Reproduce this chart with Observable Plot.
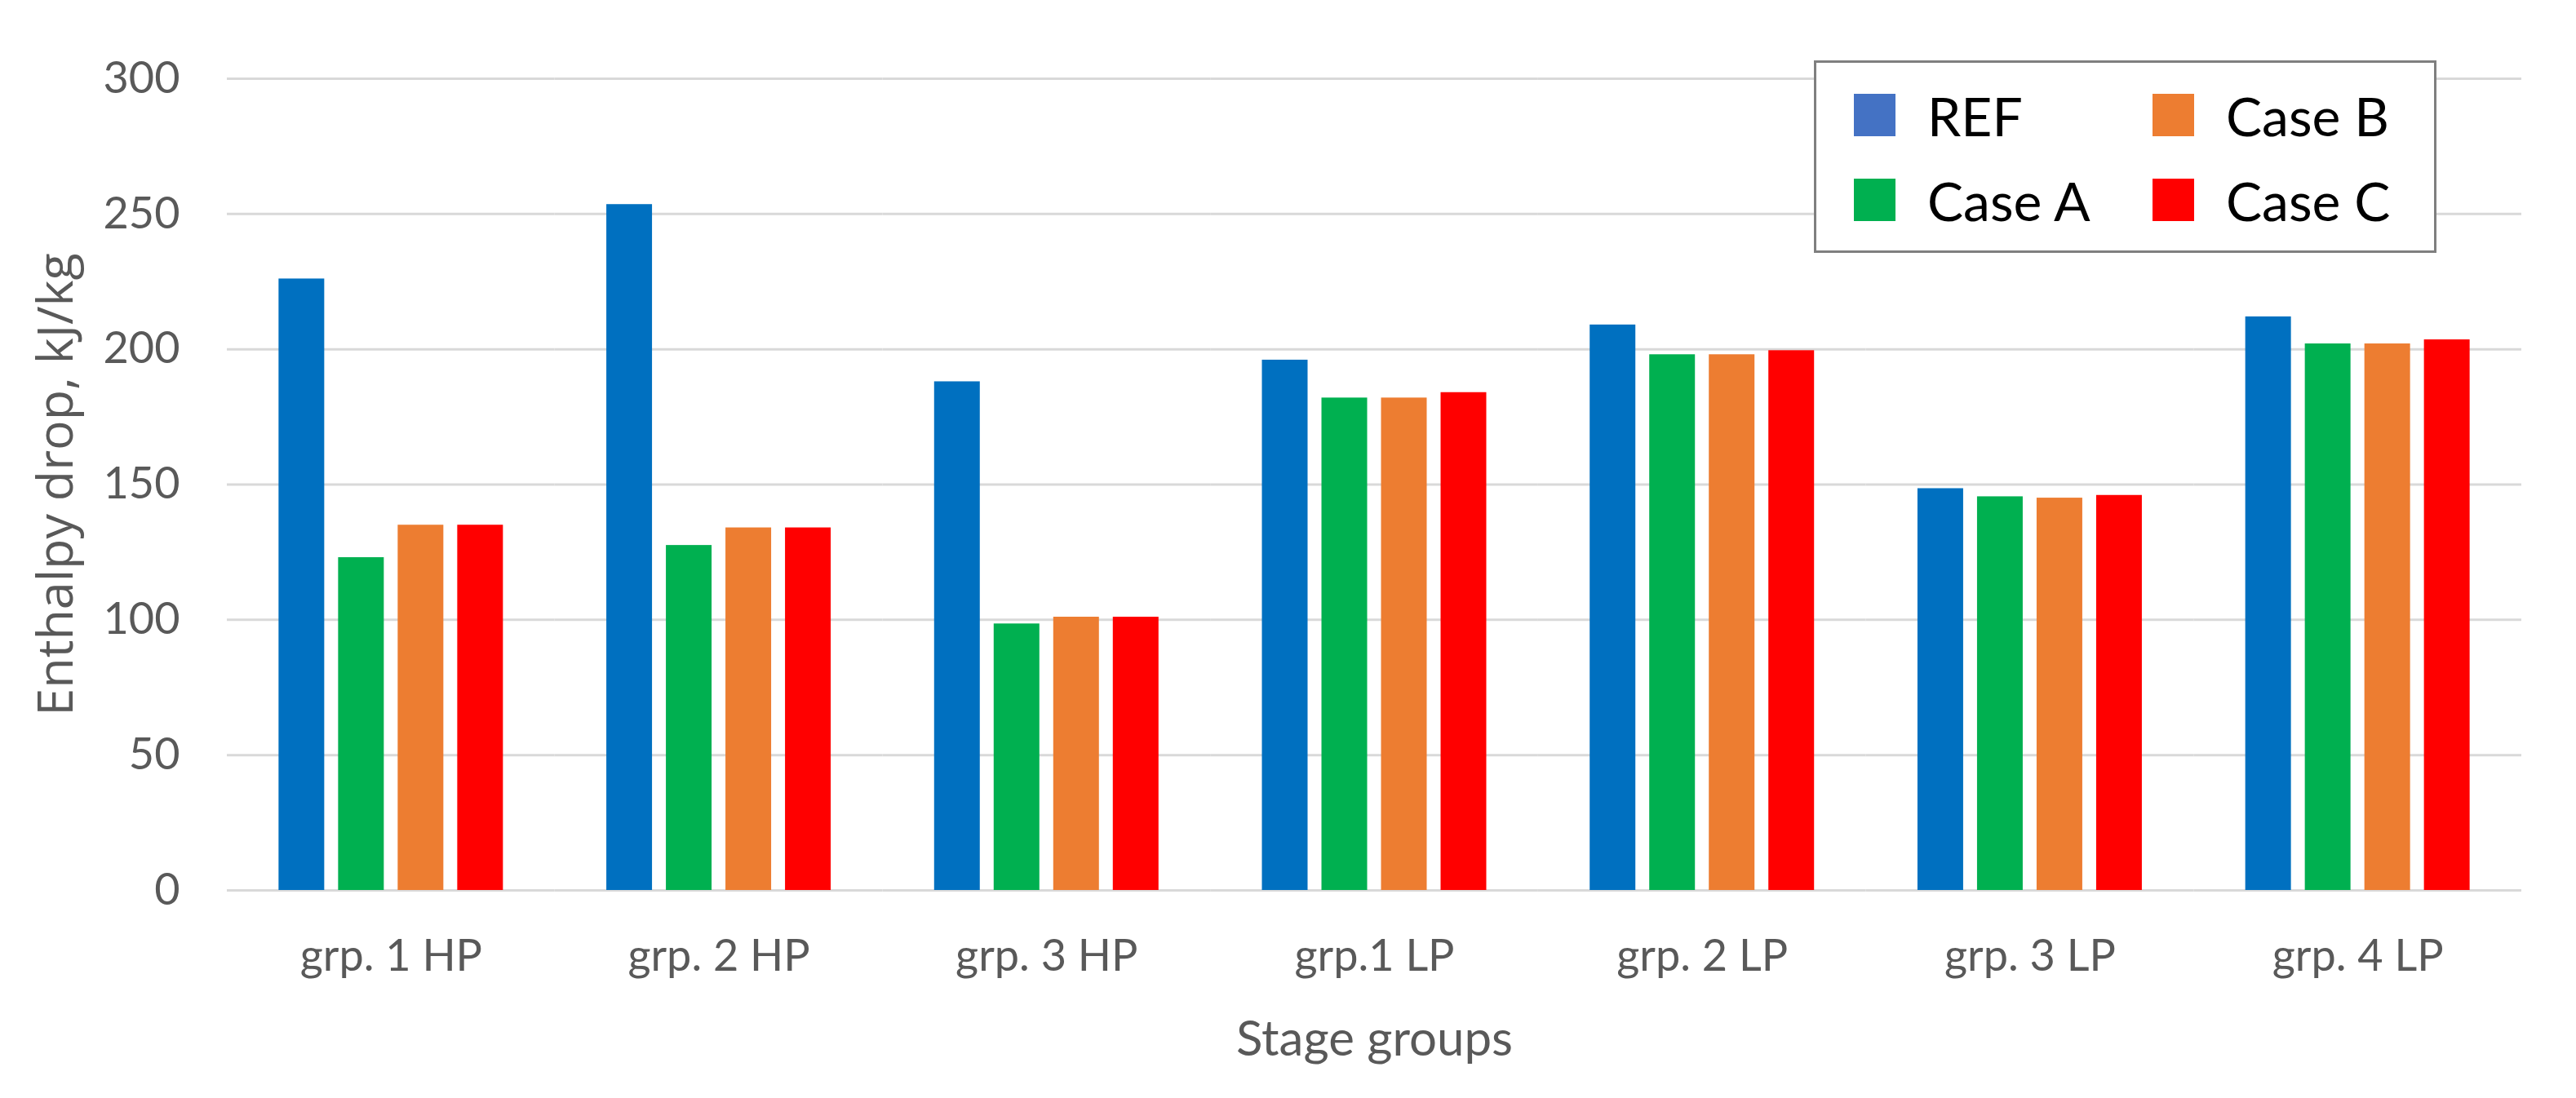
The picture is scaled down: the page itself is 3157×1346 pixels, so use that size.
<!DOCTYPE html>
<html>
<head>
<meta charset="utf-8">
<script src="https://cdn.jsdelivr.net/npm/d3@7"></script>
<script src="https://cdn.jsdelivr.net/npm/@observablehq/plot@0.6"></script>
<style>
  html, body { margin: 0; padding: 0; background: #fff; }
  #wrap { position: relative; width: 3157px; height: 1346px; }
  g[aria-label="y-axis label"] { font-family: "Open Sans", sans-serif; font-size: 61px; }
  g[aria-label="fx-axis label"] { font-family: Lato, sans-serif; font-size: 60px; }
  #legend {
    position: absolute; left: 2223px; top: 74px; width: 763px; height: 236px;
    box-sizing: border-box; border: 3px solid #7f7f7f; background: #fff;
    padding: 12px 0 0 46px;
    display: grid; grid-template-columns: 366px auto; grid-auto-rows: 104px;
    font-family: Lato, sans-serif; font-size: 66px; color: #000;
  }
  .item { display: flex; align-items: center; gap: 39px; }
  .sw { width: 51px; height: 52px; flex: none; }
</style>
</head>
<body>
<div id="wrap"></div>
<script>
const categories = ["grp. 1 HP", "grp. 2 HP", "grp. 3 HP", "grp.1 LP", "grp. 2 LP", "grp. 3 LP", "grp. 4 LP"];
const seriesNames = ["REF", "Case A", "Case B", "Case C"];
const refValues   = [226, 253.5, 188, 196, 209, 148.5, 212];
const caseAValues = [123, 127.5, 98.5, 182, 198, 145.5, 202];
const caseBValues = [135, 134, 101, 182, 198, 145, 202];
const caseCValues = [135, 134, 101, 184, 199.5, 146, 203.5];
const yTicks = [0, 50, 100, 150, 200, 250, 300];
const barColors = ["#0070C0", "#00B050", "#ED7D31", "#FF0000"];
const legendColors = ["#4472C4", "#00B050", "#ED7D31", "#FF0000"];
const legendOrder = ["REF", "Case B", "Case A", "Case C"];

const seriesValues = [refValues, caseAValues, caseBValues, caseCValues];
const data = [];
categories.forEach((g, i) => {
  seriesNames.forEach((s, j) => data.push({group: g, series: s, value: seriesValues[j][i]}));
});

const chart = Plot.plot({
  width: 3157,
  height: 1346,
  marginLeft: 278,
  marginRight: 67,
  marginTop: 96,
  marginBottom: 255,
  style: {fontFamily: "Lato, sans-serif", background: "#fff", color: "#595959", overflow: "visible"},
  fx: {domain: categories, padding: 0, round: false},
  x: {domain: seriesNames, axis: null, paddingInner: 0.233, paddingOuter: 0.868, round: false},
  y: {domain: [0, 300]},
  color: {domain: seriesNames, range: barColors},
  marks: [
    Plot.gridY(yTicks, {stroke: "#d9d9d9", strokeOpacity: 1, strokeWidth: 3}),
    Plot.barY(data, {fx: "group", x: "series", y: "value", fill: "series"}),
    Plot.axisY(yTicks, {
      tickSize: 0, tickPadding: 58, fontSize: 54, fill: "#595959",
      label: "Enthalpy drop, kJ/kg", labelAnchor: "center", labelOffset: 233, labelArrow: "none"
    }),
    Plot.axisFx({
      anchor: "bottom", tickSize: 0, tickPadding: 60, fontSize: 54, fill: "#595959",
      label: "Stage groups", labelAnchor: "center", labelOffset: 202
    })
  ]
});

const wrap = document.getElementById("wrap");
wrap.appendChild(chart);

const legend = document.createElement("div");
legend.id = "legend";
legendOrder.forEach(name => {
  const idx = seriesNames.indexOf(name);
  const item = document.createElement("div");
  item.className = "item";
  const sw = document.createElement("div");
  sw.className = "sw";
  sw.style.background = legendColors[idx];
  const label = document.createElement("span");
  label.textContent = name;
  item.appendChild(sw);
  item.appendChild(label);
  legend.appendChild(item);
});
wrap.appendChild(legend);
</script>
</body>
</html>
